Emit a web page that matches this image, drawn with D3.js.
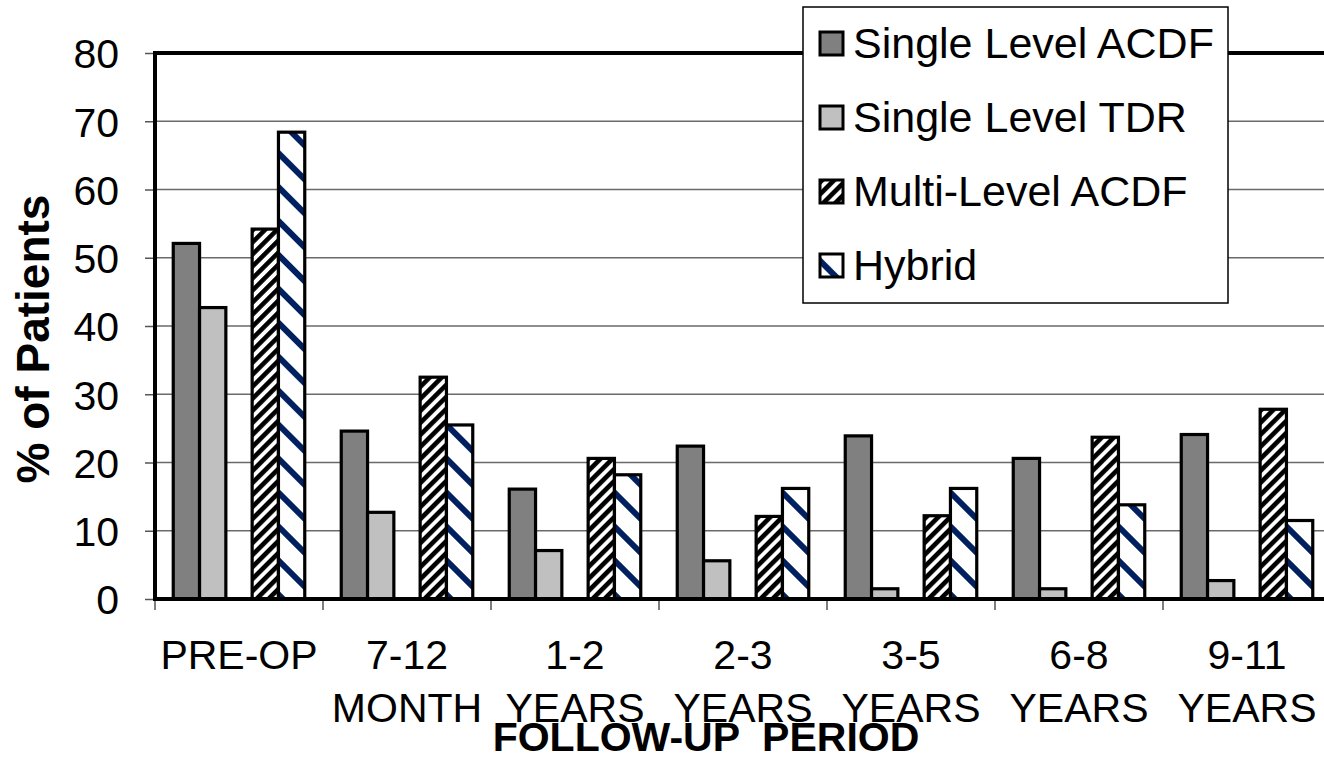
<!DOCTYPE html>
<html><head><meta charset="utf-8">
<script src="https://cdn.jsdelivr.net/npm/d3@7/dist/d3.min.js"></script>
<style>html,body{margin:0;padding:0;background:#fff;overflow:hidden}svg{display:block;font-family:Arial,"Liberation Sans",sans-serif}</style>
</head><body>
<svg id="chart" width="1324" height="760"></svg>
<script>
const categories = [["PRE-OP",""],["7-12","MONTH"],["1-2","YEARS"],["2-3","YEARS"],["3-5","YEARS"],["6-8","YEARS"],["9-11","YEARS"]];
const seriesNames = ["Single Level ACDF","Single Level TDR","Multi-Level ACDF","Hybrid"];
const acdf   = [52.1, 24.6, 16.1, 22.4, 23.9, 20.6, 24.1];
const tdr    = [42.7, 12.7, 7.1, 5.6, 1.5, 1.5, 2.7];
const multi  = [54.2, 32.5, 20.6, 12.1, 12.2, 23.7, 27.8];
const hybrid = [68.4, 25.5, 18.2, 16.2, 16.2, 13.8, 11.5];
const yTicks = [0,10,20,30,40,50,60,70,80];

const svg = d3.select("#chart");
const defs = svg.append("defs");
// Multi-level: black/white "/" stripes
const p1 = defs.append("pattern").attr("id","pMulti").attr("patternUnits","userSpaceOnUse")
  .attr("width",8.5).attr("height",8.5).attr("patternTransform","rotate(45)");
p1.append("rect").attr("width",8.5).attr("height",8.5).attr("fill","#fff");
p1.append("rect").attr("width",4.6).attr("height",8.5).attr("fill","#000");
// Hybrid: white with navy "\" stripes
const p2 = defs.append("pattern").attr("id","pHybrid").attr("patternUnits","userSpaceOnUse")
  .attr("width",24).attr("height",24).attr("patternTransform","rotate(-45)");
p2.append("rect").attr("width",24).attr("height",24).attr("fill","#fff");
p2.append("rect").attr("width",6).attr("height",24).attr("fill","#002060");

const fills = ["#808080","#C0C0C0","url(#pMulti)","url(#pHybrid)"];
const slotKeys = ["s0","s1","gap","s2","s3"];
const seriesSlot = ["s0","s1","s2","s3"];
const seriesData = [acdf, tdr, multi, hybrid];

const mLeft = 155, mRight = 1331, mTop = 53, mBottom = 599;
const x0 = d3.scaleBand().domain(categories.map(c=>c[0])).range([mLeft,mRight]).padding(0);
const x1 = d3.scaleBand().domain(slotKeys).range([0,x0.bandwidth()]).paddingInner(0).paddingOuter(0.694);
const y = d3.scaleLinear().domain([0,80]).range([mBottom,mTop]);

// gridlines
svg.append("g").selectAll("line").data(yTicks.filter(t=>t>0 && t<80)).join("line")
  .attr("x1",mLeft).attr("x2",1324).attr("y1",d=>y(d)).attr("y2",d=>y(d))
  .attr("stroke","#6a6a6a").attr("stroke-width",1.6);
// top border
svg.append("line").attr("x1",mLeft).attr("x2",1324).attr("y1",y(80)).attr("y2",y(80))
  .attr("stroke","#000").attr("stroke-width",4);

// y axis ticks & labels
const yAxis = d3.axisLeft(y).tickValues(yTicks).tickSize(10).tickPadding(26);
const gy = svg.append("g").attr("transform",`translate(${mLeft},0)`).call(yAxis);
gy.select(".domain").remove();
gy.selectAll(".tick line").attr("stroke","#555").attr("stroke-width",1.5);
gy.selectAll(".tick text").attr("font-size",41).attr("fill","#000").attr("font-family","Arial, 'Liberation Sans', sans-serif").attr("dy","0.36em");

// bars
const groups = svg.append("g").selectAll("g").data(categories).join("g")
  .attr("transform",d=>`translate(${x0(d[0])},0)`);
groups.selectAll("rect").data((d,i)=>seriesData.map((s,k)=>({k, v:s[i]}))).join("rect")
  .attr("x",d=>x1(seriesSlot[d.k])).attr("width",x1.bandwidth())
  .attr("y",d=>y(d.v)).attr("height",d=>y(0)-y(d.v))
  .attr("fill",d=>fills[d.k]).attr("stroke","#000").attr("stroke-width",3.2);

// x axis ticks
svg.append("g").selectAll("line").data(d3.range(categories.length)).join("line")
  .attr("x1",i=>x0(categories[i][0])).attr("x2",i=>x0(categories[i][0]))
  .attr("y1",mBottom).attr("y2",mBottom+11).attr("stroke","#555").attr("stroke-width",1.5);
// axes lines
svg.append("line").attr("x1",mLeft).attr("x2",1324).attr("y1",mBottom).attr("y2",mBottom).attr("stroke","#000").attr("stroke-width",4);
svg.append("line").attr("x1",mLeft).attr("x2",mLeft).attr("y1",mTop-2).attr("y2",mBottom+2).attr("stroke","#000").attr("stroke-width",4);

// x labels
const xl = svg.append("g").selectAll("text").data(categories).join("text")
  .attr("text-anchor","middle").attr("font-size",41).attr("fill","#000");
xl.append("tspan").attr("x",d=>x0(d[0])+x0.bandwidth()/2).attr("y",669).text(d=>d[0]);
xl.append("tspan").attr("x",d=>x0(d[0])+x0.bandwidth()/2).attr("y",722).text(d=>d[1]);

// axis titles
svg.append("text").attr("x",706).attr("y",751).attr("text-anchor","middle")
  .attr("font-size",41).attr("font-weight","bold").attr("fill","#000").attr("xml:space","preserve").text("FOLLOW-UP  PERIOD");
svg.append("text").attr("transform","translate(49,339) rotate(-90)").attr("text-anchor","middle")
  .attr("font-size",46).attr("font-weight","bold").attr("fill","#000").text("% of Patients");

// legend
const lg = svg.append("g");
lg.append("rect").attr("x",803).attr("y",7).attr("width",425).attr("height",296)
  .attr("fill","#fff").attr("stroke","#000").attr("stroke-width",1.5);
const rowsY = [43,117,191,265];
const li = lg.selectAll("g.li").data(seriesNames).join("g").attr("class","li")
  .attr("transform",(d,i)=>`translate(820,${rowsY[i]})`);
li.append("rect").attr("x",0).attr("y",-11).attr("width",23).attr("height",23)
  .attr("fill",(d,i)=>fills[i]).attr("stroke","#000").attr("stroke-width",3);
li.append("text").attr("x",33).attr("y",0).attr("dy","0.36em").attr("font-size",43).attr("fill","#000").text(d=>d);
</script>
</body></html>
